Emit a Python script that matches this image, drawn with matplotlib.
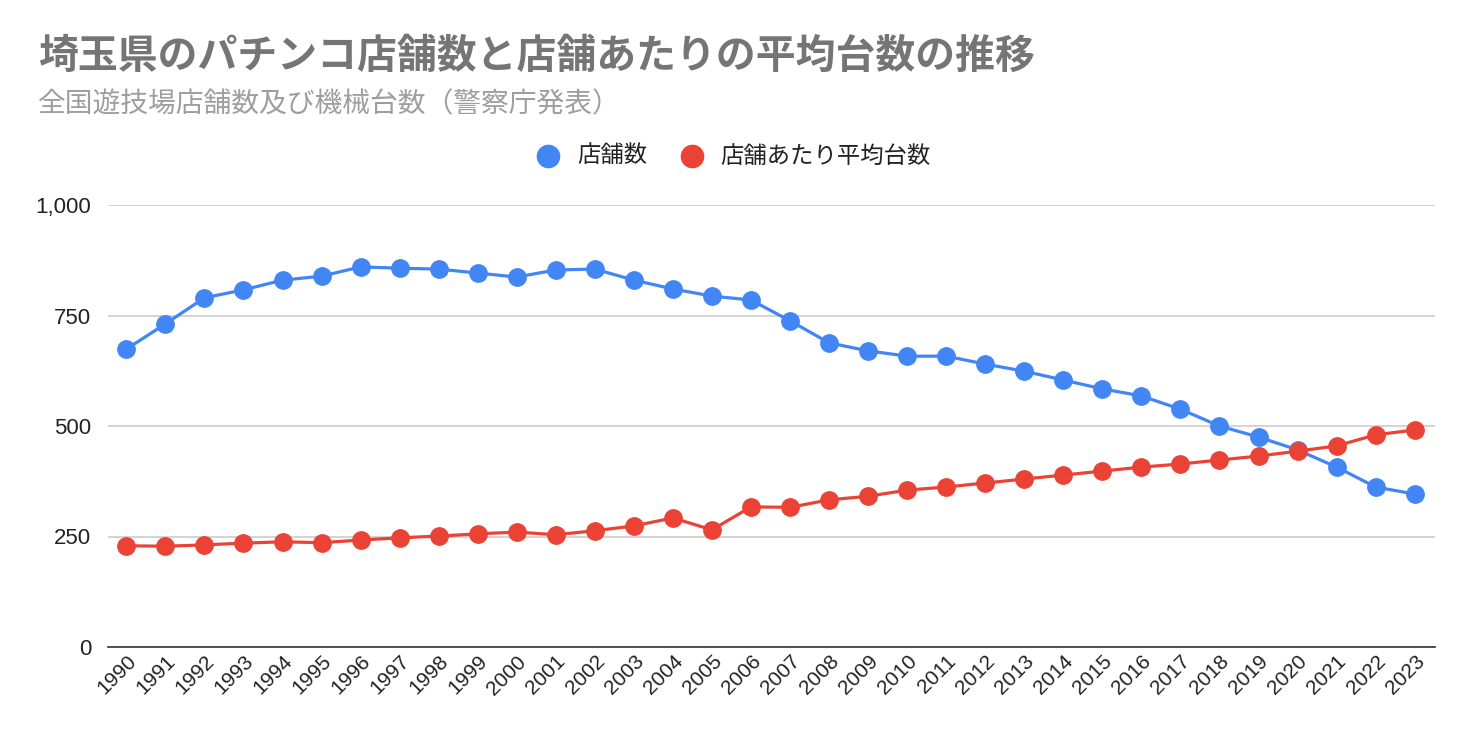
import matplotlib
matplotlib.use("Agg")
import matplotlib.pyplot as plt
from matplotlib.ticker import FuncFormatter

# DATA
years = list(range(1990, 2024))
shops = [674, 731, 790, 808, 830, 839, 860, 857, 855, 846,
         837, 853, 855, 830, 810, 794, 785, 738, 688, 670,
         658, 658, 640, 624, 604, 584, 568, 538, 500, 475,
         446, 407, 362, 346]
avg_machines = [229, 228, 231, 235, 238, 236, 242, 247, 251, 256,
                260, 254, 263, 274, 292, 265, 317, 316, 333, 341,
                355, 362, 371, 380, 389, 398, 407, 414, 423, 432,
                443, 455, 480, 491]
series_names = ["店舗数", "店舗あたり平均台数"]
title = "埼玉県のパチンコ店舗数と店舗あたりの平均台数の推移"
subtitle = "全国遊技場店舗数及び機械台数（警察庁発表）"

plt.rcParams['font.family'] = ['Noto Sans CJK JP', 'DejaVu Sans']

W, H = 1472, 742
fig = plt.figure(figsize=(W / 100, H / 100), dpi=100)
ax = fig.add_axes([108 / W, 1 - 647 / H, (1435 - 108) / W, (647 - 205) / H])

blue = "#4285F4"
red = "#EA4335"
x = list(range(len(years)))
ax.plot(x, shops, color=blue, lw=2.3, marker="o", ms=12.5, zorder=3)
ax.plot(x, avg_machines, color=red, lw=2.3, marker="o", ms=12.5, zorder=3)

ax.set_xlim(-0.47, len(years) - 1 + 0.52)
ax.set_ylim(0, 1000)
ax.set_yticks([0, 250, 500, 750, 1000])
ax.yaxis.set_major_formatter(FuncFormatter(lambda v, p: f"{int(v):,}"))
ax.grid(axis="y", color="#cccccc", lw=1.2)
ax.set_axisbelow(True)
for s in ["top", "right", "left"]:
    ax.spines[s].set_visible(False)
ax.spines["bottom"].set_color("#333333")
ax.spines["bottom"].set_linewidth(1.2)
ax.tick_params(axis="both", length=0, labelsize=16, colors="#222222")
ax.tick_params(axis="y", pad=12)
ax.set_xticks(x)
ax.set_xticklabels([str(y) for y in years], rotation=45, ha="right",
                   rotation_mode="anchor", family="Liberation Sans", fontsize=15)
for lab in ax.get_yticklabels():
    lab.set_family("Liberation Sans")

fig.text(38 / W, 1 - 56 / H, title, fontsize=28.7, fontweight="bold",
         color="#757575", va="center", ha="left")
fig.text(38 / W, 1 - 104 / H, subtitle, fontsize=20,
         color="#9e9e9e", va="center", ha="left")

# legend
fig.lines.append(plt.Line2D([548 / W], [1 - 156 / H], marker="o", ms=16,
                            color=blue, transform=fig.transFigure))
fig.text(577 / W, 1 - 156 / H, series_names[0], fontsize=16.8, color="#222222",
         va="center", ha="left")
fig.lines.append(plt.Line2D([692 / W], [1 - 156 / H], marker="o", ms=16,
                            color=red, transform=fig.transFigure))
fig.text(720 / W, 1 - 156 / H, series_names[1], fontsize=16.8, color="#222222",
         va="center", ha="left")

fig.savefig("out.png", dpi=100)
